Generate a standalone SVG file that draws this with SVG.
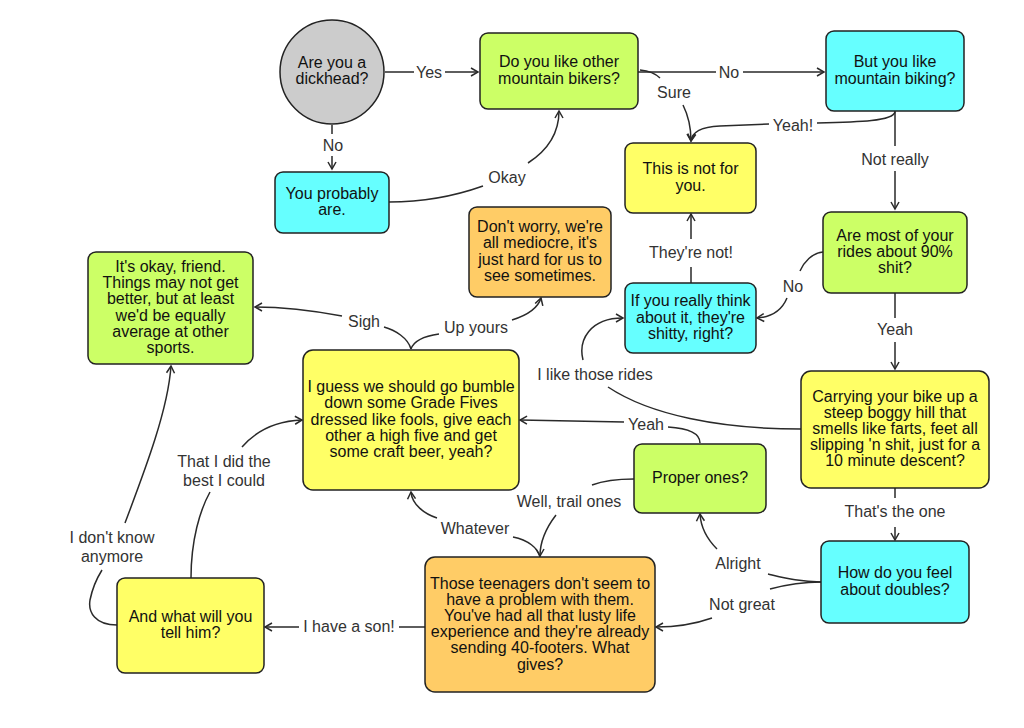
<svg xmlns="http://www.w3.org/2000/svg" width="1024" height="728" viewBox="0 0 1024 728">
<defs>
<style>
.n{stroke:#222;stroke-width:1.5}
.g{fill:#ccff66}.c{fill:#66ffff}.y{fill:#ffff66}.o{fill:#ffcc66}.gr{fill:#cccccc}
.t{font-family:"Liberation Sans",Arial,Helvetica,sans-serif;font-size:16px;fill:#111;text-anchor:middle}
.l{font-family:"Liberation Sans",Arial,Helvetica,sans-serif;font-size:16px;fill:#333;text-anchor:middle}
.e{fill:none;stroke:#2a2a2a;stroke-width:1.5;marker-end:url(#arr)}
</style>
<marker id="arr" viewBox="-9 -6 11 12" refX="0" refY="0" markerWidth="11" markerHeight="12" orient="auto" markerUnits="userSpaceOnUse">
<path d="M-7,-4 L0,0 L-7,4" fill="none" stroke="#2a2a2a" stroke-width="1.5"/>
</marker>
</defs>
<rect width="1024" height="728" fill="#ffffff"/>

<g id="connectors">
<path class="e" d="M385,72 H414 M445,72 H478"/>
<path class="e" d="M638,72 H716 M743,72 H824"/>
<path class="e" d="M332,125 V134 M332,156 V169"/>
<path class="e" d="M389,202 C420,202 455,196 483,186 M528,163 C545,152 559,135 559,111"/>
<path class="e" d="M640,70 C650,71 656,74 660,78 M683,105 C688,115 691,128 691,141"/>
<path class="e" d="M895,112 C893,121 860,122 817,123 M769,124 L720,126 C700,127 692,132 691,141"/>
<path class="e" d="M895,111 V146 M895,171 V209"/>
<path class="e" d="M691,283 V267 M691,239 V214"/>
<path class="e" d="M823,252 C812,253 804,262 800,271 M787,298 C782,310 772,317 757,318"/>
<path class="e" d="M895,293 V318 M895,342 V369"/>
<path class="e" d="M801,429 C720,429 650,415 608,387 M583,360 C578,340 590,318 623,318"/>
<path class="e" d="M411,349 C408,338 395,330 384,327 M342,316 C310,310 280,307 255,307"/>
<path class="e" d="M411,349 C414,340 425,336 439,334 M512,320 C528,315 538,308 541,298"/>
<path class="e" d="M700,443 C700,432 685,428 668,427 M624,422 L520,420"/>
<path class="e" d="M634,479 C615,479 600,482 592,485 M556,515 C546,528 540,542 540,556"/>
<path class="e" d="M540,557 C538,548 528,540 513,537 M437,518 C425,514 412,505 411,492"/>
<path class="e" d="M191,578 C191,540 200,510 210,492 M242,447 C255,432 275,421 302,420"/>
<path class="e" d="M117,625 C95,625 88,612 90,600 C92,590 97,578 102,570 M125,523 C145,470 168,410 171,366"/>
<path class="e" d="M425,627 H399 M299,627 H265"/>
<path class="e" d="M895,488 V498 M895,527 V540"/>
<path class="e" d="M821,582 C800,582 785,578 768,574 M717,549 C708,540 701,530 700,514"/>
<path class="e" d="M821,582 C800,582 785,585 770,589 M712,618 C695,624 675,627 656,627"/>
</g>

<g id="edge-labels">
<text class="l" x="429" y="77.5">Yes</text>
<text class="l" x="729" y="77.5">No</text>
<text class="l" x="333" y="150.5">No</text>
<text class="l" x="507" y="182.5">Okay</text>
<text class="l" x="674" y="97.5">Sure</text>
<text class="l" x="793" y="130.5">Yeah!</text>
<text class="l" x="895" y="164.5">Not really</text>
<text class="l" x="691" y="258">They're not!</text>
<text class="l" x="793" y="292">No</text>
<text class="l" x="895" y="335">Yeah</text>
<text class="l" x="595" y="380">I like those rides</text>
<text class="l" x="364" y="327">Sigh</text>
<text class="l" x="476" y="333">Up yours</text>
<text class="l" x="646" y="430">Yeah</text>
<text class="l" x="224" y="467">That I did the</text>
<text class="l" x="224" y="486">best I could</text>
<text class="l" x="112" y="543">I don't know</text>
<text class="l" x="112" y="562">anymore</text>
<text class="l" x="475" y="534">Whatever</text>
<text class="l" x="569" y="507">Well, trail ones</text>
<text class="l" x="349" y="632">I have a son!</text>
<text class="l" x="895" y="517">That's the one</text>
<text class="l" x="738" y="569">Alright</text>
<text class="l" x="742" y="610">Not great</text>
</g>

<g id="dickhead">
<circle class="n gr" cx="332" cy="72" r="52"/>
<text class="t" x="332"><tspan x="332" y="67.9">Are you a</tspan><tspan x="332" y="84.1">dickhead?</tspan></text>
</g>
<g id="like-bikers">
<rect class="n g" x="480" y="33" width="158" height="76" rx="8"/>
<text class="t"><tspan x="559" y="67.4">Do you like other</tspan><tspan x="559" y="83.6">mountain bikers?</tspan></text>
</g>
<g id="like-biking">
<rect class="n c" x="826" y="31" width="138" height="80" rx="8"/>
<text class="t"><tspan x="895" y="67.4">But you like</tspan><tspan x="895" y="83.6">mountain biking?</tspan></text>
</g>
<g id="probably">
<rect class="n c" x="275" y="172" width="114" height="61" rx="8"/>
<text class="t"><tspan x="332" y="198.9">You probably</tspan><tspan x="332" y="215.1">are.</tspan></text>
</g>
<g id="not-for-you">
<rect class="n y" x="625" y="143" width="131" height="70" rx="8"/>
<text class="t"><tspan x="690.5" y="174.4">This is not for</tspan><tspan x="690.5" y="190.6">you.</tspan></text>
</g>
<g id="dont-worry">
<rect class="n o" x="469" y="207" width="142" height="90" rx="8"/>
<text class="t"><tspan x="540" y="232.2">Don't worry, we're</tspan><tspan x="540" y="248.4">all mediocre, it's</tspan><tspan x="540" y="264.6">just hard for us to</tspan><tspan x="540" y="280.8">see sometimes.</tspan></text>
</g>
<g id="rides-shit">
<rect class="n g" x="823" y="212" width="144" height="81" rx="8"/>
<text class="t"><tspan x="895" y="240.8">Are most of your</tspan><tspan x="895" y="257">rides about 90%</tspan><tspan x="895" y="273.2">shit?</tspan></text>
</g>
<g id="really-think">
<rect class="n c" x="625" y="283" width="131" height="70" rx="8"/>
<text class="t"><tspan x="690.5" y="306.3">If you really think</tspan><tspan x="690.5" y="322.5">about it, they're</tspan><tspan x="690.5" y="338.7">shitty, right?</tspan></text>
</g>
<g id="okay-friend">
<rect class="n g" x="88" y="252" width="165" height="112" rx="8"/>
<text class="t"><tspan x="170.5" y="272">It's okay, friend.</tspan><tspan x="170.5" y="288.2">Things may not get</tspan><tspan x="170.5" y="304.4">better, but at least</tspan><tspan x="170.5" y="320.6">we'd be equally</tspan><tspan x="170.5" y="336.8">average at other</tspan><tspan x="170.5" y="353">sports.</tspan></text>
</g>
<g id="bumble">
<rect class="n y" x="303" y="350" width="216" height="140" rx="10"/>
<text class="t"><tspan x="411" y="392.1">I guess we should go bumble</tspan><tspan x="411" y="408.3">down some Grade Fives</tspan><tspan x="411" y="424.5">dressed like fools, give each</tspan><tspan x="411" y="440.7">other a high five and get</tspan><tspan x="411" y="456.9">some craft beer, yeah?</tspan></text>
</g>
<g id="carrying">
<rect class="n y" x="801" y="371" width="188" height="117" rx="10"/>
<text class="t"><tspan x="895" y="401.6">Carrying your bike up a</tspan><tspan x="895" y="417.8">steep boggy hill that</tspan><tspan x="895" y="434">smells like farts, feet all</tspan><tspan x="895" y="450.2">slipping 'n shit, just for a</tspan><tspan x="895" y="466.4">10 minute descent?</tspan></text>
</g>
<g id="proper">
<rect class="n g" x="634" y="444" width="132" height="69" rx="8"/>
<text class="t" x="700" y="483">Proper ones?</text>
</g>
<g id="doubles">
<rect class="n c" x="821" y="541" width="148" height="82" rx="8"/>
<text class="t"><tspan x="895" y="578.4">How do you feel</tspan><tspan x="895" y="594.6">about doubles?</tspan></text>
</g>
<g id="teenagers">
<rect class="n o" x="425" y="557" width="230" height="135" rx="10"/>
<text class="t"><tspan x="540" y="588.5">Those teenagers don't seem to</tspan><tspan x="540" y="604.7">have a problem with them.</tspan><tspan x="540" y="620.9">You've had all that lusty life</tspan><tspan x="540" y="637.1">experience and they're already</tspan><tspan x="540" y="653.3">sending 40-footers. What</tspan><tspan x="540" y="669.5">gives?</tspan></text>
</g>
<g id="tell-him">
<rect class="n y" x="117" y="578" width="147" height="95" rx="8"/>
<text class="t"><tspan x="190.5" y="621.9">And what will you</tspan><tspan x="190.5" y="638.1">tell him?</tspan></text>
</g>
</svg>
